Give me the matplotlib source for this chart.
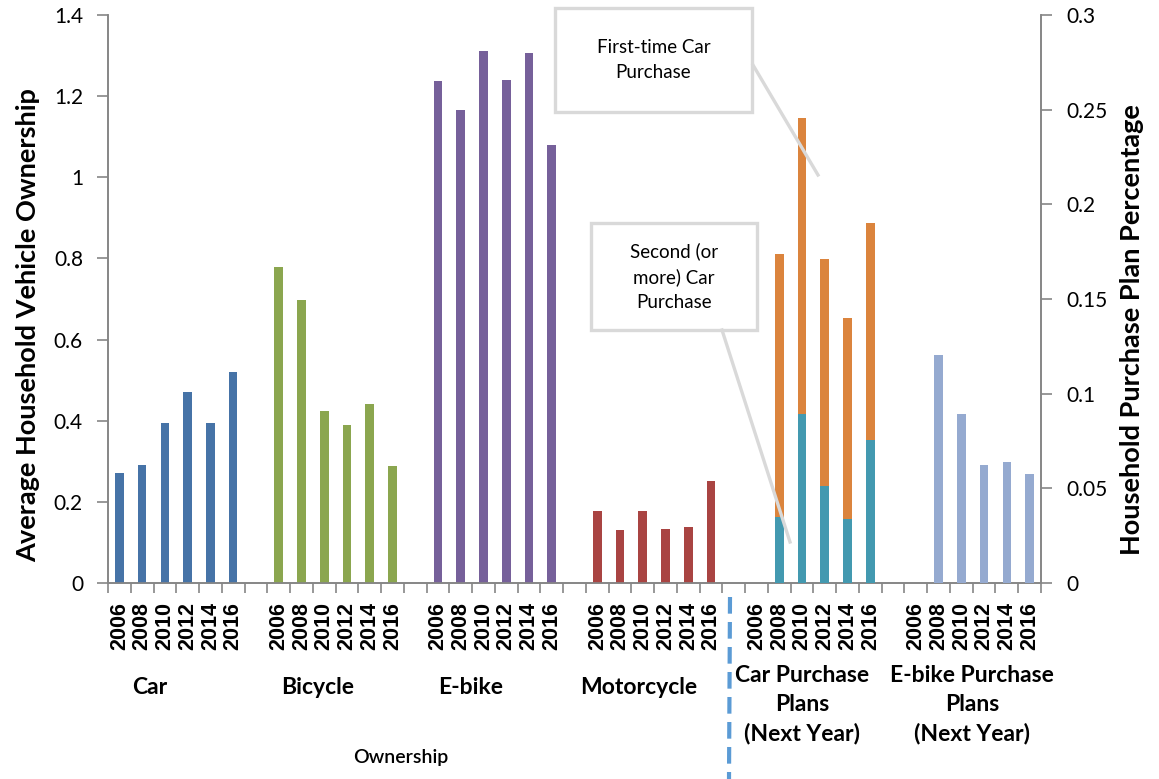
import numpy as np
import matplotlib
matplotlib.use("Agg")
import matplotlib.pyplot as plt
from matplotlib.lines import Line2D
from matplotlib.patches import Rectangle

# ---- data -------------------------------------------------------------
years = ["2006", "2008", "2010", "2012", "2014", "2016"]
group_names = ["Car", "Bicycle", "E-bike", "Motorcycle",
               "Car Purchase\nPlans\n(Next Year)",
               "E-bike Purchase\nPlans\n(Next Year)"]

# average household vehicle ownership (left axis)
car = [0.27, 0.29, 0.395, 0.47, 0.395, 0.52]
bicycle = [0.78, 0.697, 0.425, 0.389, 0.441, 0.289]
ebike = [1.237, 1.166, 1.311, 1.240, 1.306, 1.080]
motorcycle = [0.177, 0.131, 0.177, 0.133, 0.138, 0.251]

# household purchase plan percentage (right axis); no survey in 2006
car_plan_second = [np.nan, 0.035, 0.089, 0.051, 0.034, 0.0755]
car_plan_first = [np.nan, 0.139, 0.1565, 0.120, 0.106, 0.1145]
ebike_plan = [np.nan, 0.1204, 0.089, 0.0622, 0.0641, 0.0576]

left_ticks = [0, 0.2, 0.4, 0.6, 0.8, 1.0, 1.2, 1.4]
left_tick_labels = ["0", "0.2", "0.4", "0.6", "0.8", "1", "1.2", "1.4"]
right_ticks = [0, 0.05, 0.1, 0.15, 0.2, 0.25, 0.3]
right_tick_labels = ["0", "0.05", "0.1", "0.15", "0.2", "0.25", "0.3"]

# ---- style ------------------------------------------------------------
C_CAR = "#4673A7"
C_BIKE = "#8BA64F"
C_EBIKE = "#76609A"
C_MOTO = "#A94442"
C_SECOND = "#4399B0"
C_FIRST = "#DB843D"
C_EPLAN = "#95AAD0"
AXIS_GREY = "#868686"
CALLOUT_GREY = "#D9D9D9"
FONT = "Lato"
TICK_FONT = "Liberation Sans"

W, H = 1159, 779
fig = plt.figure(figsize=(W / 100, H / 100), dpi=100)


def fx(px):
    return px / W


def fy(py):
    return 1 - py / H


ax = fig.add_axes([fx(108), fy(583), (1041 - 108) / W, (583 - 15) / H])
ax2 = ax.twinx()

n_per_group = len(years)
stride = n_per_group + 1          # one empty slot between groups
n_slots = stride * len(group_names) - 1
bar_w = 0.38


def group_x(g):
    return np.arange(n_per_group) + g * stride


def draw(axis, g, values, color, bottom=None):
    x = group_x(g)
    vals = np.asarray(values, dtype=float)
    keep = ~np.isnan(vals)
    b = None if bottom is None else np.asarray(bottom, dtype=float)[keep]
    axis.bar(x[keep], vals[keep], width=bar_w, color=color, bottom=b,
             linewidth=0, zorder=3)


draw(ax, 0, car, C_CAR)
draw(ax, 1, bicycle, C_BIKE)
draw(ax, 2, ebike, C_EBIKE)
draw(ax, 3, motorcycle, C_MOTO)
draw(ax2, 4, car_plan_second, C_SECOND)
draw(ax2, 4, car_plan_first, C_FIRST, bottom=car_plan_second)
draw(ax2, 5, ebike_plan, C_EPLAN)

# ---- axes ---------------------------------------------------------------
ax.set_xlim(-0.5, n_slots - 0.5)
ax.set_ylim(0, 1.4)
ax2.set_ylim(0, 0.3)

ax.set_yticks(left_ticks)
ax.set_yticklabels(left_tick_labels, fontsize=15, family=FONT)
ax2.set_yticks(right_ticks)
ax2.set_yticklabels(right_tick_labels, fontsize=15, family=FONT)

slot_labels = []
for g in range(len(group_names)):
    slot_labels += years
    if g < len(group_names) - 1:
        slot_labels.append("")
ax.set_xticks(np.arange(n_slots))
ax.set_xticklabels(slot_labels, rotation=90, fontsize=15.5,
                   fontweight="bold", family=TICK_FONT)
ax.set_xticks(np.arange(n_slots + 1) - 0.5, minor=True)
ax.tick_params(axis="x", which="major", length=0, pad=14)
ax.tick_params(axis="x", which="minor", length=7, color=AXIS_GREY,
               width=1.2, direction="out")
ax.tick_params(axis="y", length=8, color=AXIS_GREY, width=1.2, pad=10)
ax2.tick_params(axis="y", length=8, color=AXIS_GREY, width=1.2, pad=10)

for a in (ax, ax2):
    a.spines["top"].set_visible(False)
    for s in ("left", "right", "bottom"):
        a.spines[s].set_color(AXIS_GREY)
        a.spines[s].set_linewidth(1.2)

ax.set_ylabel("Average Household Vehicle Ownership", fontsize=19.5,
              fontweight="bold", family=FONT)
ax.yaxis.set_label_coords((40 - 108) / 933, (583 - 325) / 568)
ax2.set_ylabel("Household Purchase Plan Percentage", fontsize=19.5,
               fontweight="bold", family=FONT, rotation=90)
ax2.yaxis.set_label_coords((1120 - 108) / 933, (583 - 330) / 568)

# ---- category group labels -----------------------------------------------
group_label_px = [(150, 687), (318, 687), (471, 687), (639, 687),
                  (802, 705), (972, 705)]
for name, (px, py) in zip(group_names, group_label_px):
    fig.text(fx(px), fy(py), name, ha="center", va="center", fontsize=16.5,
             fontweight="bold", family=FONT, linespacing=1.45)

fig.text(fx(401), fy(757), "Ownership", ha="center", va="center",
         fontsize=14, fontweight="semibold", family=FONT)

# dashed separator between ownership and purchase plans
fig.add_artist(Line2D([fx(730), fx(729)], [fy(597), fy(779)],
                      color="#5B9BD5", linewidth=3, linestyle=(0, (4, 2))))

# ---- callouts ----------------------------------------------------------------
def callout(x0, y0, x1, y1, text, line_from, line_to):
    fig.add_artist(Rectangle((fx(x0), fy(y1)), (x1 - x0) / W, (y1 - y0) / H,
                             transform=fig.transFigure, facecolor="white",
                             edgecolor=CALLOUT_GREY, linewidth=2.4, zorder=5))
    fig.text(fx((x0 + x1) / 2), fy((y0 + y1) / 2), text, ha="center",
             va="center", fontsize=13.5, family=FONT, zorder=6,
             linespacing=1.55)
    fig.add_artist(Line2D([fx(line_from[0]), fx(line_to[0])],
                          [fy(line_from[1]), fy(line_to[1])],
                          color=CALLOUT_GREY, linewidth=2.4, zorder=6))


callout(555, 8, 752, 112, "First-time Car\nPurchase", (753, 65), (818, 175))
callout(591, 223, 757, 330, "Second (or\nmore) Car\nPurchase",
        (722, 330), (790, 542))

fig.savefig("out.png", dpi=100)
